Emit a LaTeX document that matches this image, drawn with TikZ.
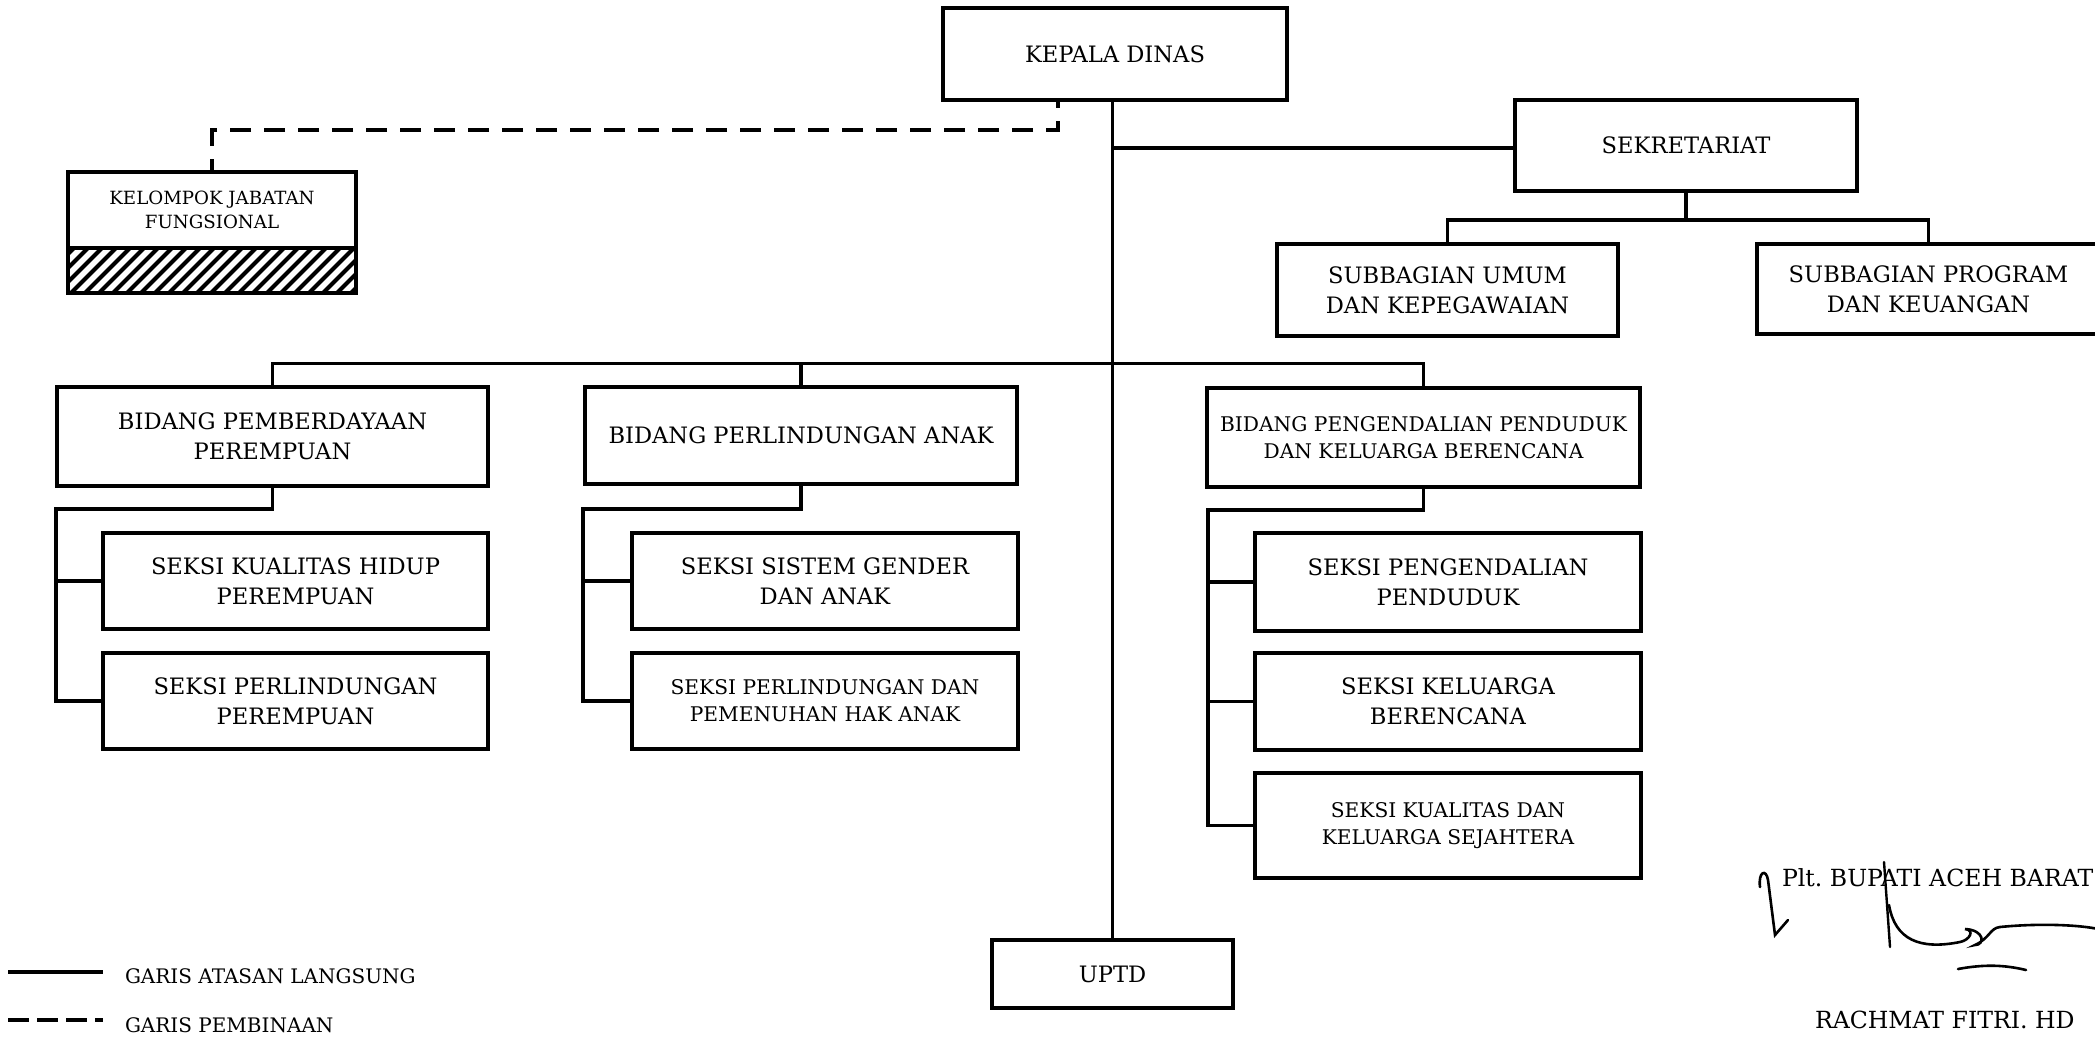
\documentclass[tikz,border=0pt]{standalone}
\usepackage{fontspec}
\setmainfont{DejaVu Serif}
\newcommand\fsMain{\fontsize{22.6}{30}\selectfont}
\newcommand\fsSmall{\fontsize{20.2}{27}\selectfont}
\newcommand\fsKjf{\fontsize{18.2}{24}\selectfont}
\newcommand\fsLeg{\fontsize{20}{24}\selectfont}
\newcommand\fsSig{\fontsize{23.6}{30}\selectfont}
\tikzset{
  box/.style={draw, rectangle, line width=3.5pt, inner sep=0pt, outer sep=0pt, align=center, font=\fsMain},
  conn/.style={line width=3.4pt, line join=miter},
  dashline/.style={line width=3.8pt, dash pattern=on 21pt off 13pt},
  plain/.style={inner sep=0pt, outer sep=0pt}
}
\begin{document}
\begin{tikzpicture}[x=1pt,y=-1pt]
\useasboundingbox (0,0) rectangle (2095,1037);
% top
\node[box, minimum width=344pt, minimum height=92pt] (kd) at (1115,54) {KEPALA DINAS};
\node[box, minimum width=342pt, minimum height=91pt] (sek) at (1686,145.5) {SEKRETARIAT};
\node[box, minimum width=341pt, minimum height=92pt] (suu) at (1447.5,290) {SUBBAGIAN UMUM\\DAN KEPEGAWAIAN};
\node[box, minimum width=343pt, minimum height=90pt] (sup) at (1928.5,289) {SUBBAGIAN PROGRAM\\DAN KEUANGAN};
% fungsional
\node[box, minimum width=288pt, minimum height=76pt, font=\fsKjf] (kjf) at (212,210) {KELOMPOK JABATAN\\FUNGSIONAL};
\node[box, minimum width=288pt, minimum height=45pt] (kjfh) at (212,270.5) {};
\begin{scope}
  \clip (kjfh.south west) rectangle (kjfh.north east);
  \foreach \i in {-5,...,24} \draw[line width=4pt] (68+14*\i,296) -- ++(52,-52);
\end{scope}
\draw[line width=3.5pt] (kjfh.south west) rectangle (kjfh.north east);
% bidang
\node[box, minimum width=431pt, minimum height=99pt] (bpp) at (272.5,436.5) {BIDANG PEMBERDAYAAN\\PEREMPUAN};
\node[box, minimum width=432pt, minimum height=97pt] (bpa) at (801,435.5) {BIDANG PERLINDUNGAN ANAK};
\node[box, minimum width=433pt, minimum height=99pt, font=\fsSmall] (bpd) at (1423.5,437.5) {BIDANG PENGENDALIAN PENDUDUK\\DAN KELUARGA BERENCANA};
% seksi left
\node[box, minimum width=385pt, minimum height=96pt] (s11) at (295.5,581) {SEKSI KUALITAS HIDUP\\PEREMPUAN};
\node[box, minimum width=385pt, minimum height=96pt] (s12) at (295.5,701) {SEKSI PERLINDUNGAN\\PEREMPUAN};
% seksi middle
\node[box, minimum width=386pt, minimum height=96pt] (s21) at (825,581) {SEKSI SISTEM GENDER\\DAN ANAK};
\node[box, minimum width=386pt, minimum height=96pt, font=\fsSmall] (s22) at (825,701) {SEKSI PERLINDUNGAN DAN\\PEMENUHAN HAK ANAK};
% seksi right
\node[box, minimum width=386pt, minimum height=98pt] (s31) at (1448,582) {SEKSI PENGENDALIAN\\PENDUDUK};
\node[box, minimum width=386pt, minimum height=97pt] (s32) at (1448,701.5) {SEKSI KELUARGA\\BERENCANA};
\node[box, minimum width=386pt, minimum height=105pt, font=\fsSmall] (s33) at (1448,825.5) {SEKSI KUALITAS DAN\\KELUARGA SEJAHTERA};
% uptd
\node[box, minimum width=241pt, minimum height=68pt] (uptd) at (1112.5,974) {UPTD};
% coordinates
\coordinate (sekbar) at (0,220);
\coordinate (mainbar) at (0,363.5);
\coordinate (b1) at (56,509);
\coordinate (b2) at (583,509);
\coordinate (b3) at (1208,510);
\coordinate (dk) at (1058,130);
% connectors
\draw[conn] (uptd.north) -- (uptd.north |- kd.south);
\draw[conn] (uptd.north |- 0,148) -- (sek.west |- 0,148);
\draw[conn] (sek.south) -- (sek.south |- sekbar);
\draw[conn] (suu.north) -- (suu.north |- sekbar) -- (sup.north |- sekbar) -- (sup.north);
\draw[conn] (bpp.north) -- (bpp.north |- mainbar) -- (bpd.north |- mainbar) -- (bpd.north);
\draw[conn] (bpa.north) -- (bpa.north |- mainbar);
\draw[conn] (bpp.south) |- (b1) -- (b1 |- s12.west) -- (s12.west);
\draw[conn] (b1 |- s11.west) -- (s11.west);
\draw[conn] (bpa.south) |- (b2) -- (b2 |- s22.west) -- (s22.west);
\draw[conn] (b2 |- s21.west) -- (s21.west);
\draw[conn] (bpd.south) |- (b3) -- (b3 |- s33.west) -- (s33.west);
\draw[conn] (b3 |- s31.west) -- (s31.west);
\draw[conn] (b3 |- s32.west) -- (s32.west);
\draw[dashline, dash phase=13pt] (dk |- kd.south) -- (dk) -| (kjf.north);
% legend
\coordinate (l1a) at (8,972);
\coordinate (l1b) at (103,972);
\coordinate (l2a) at (8,1020);
\coordinate (l2b) at (103,1020);
\draw[conn] (l1a) -- (l1b);
\draw[dashline, dash pattern=on 21pt off 8pt] (l2a) -- (l2b);
\node[plain, anchor=west, font=\fsLeg] (leg1) at (125,976) {GARIS ATASAN LANGSUNG};
\node[plain, anchor=west, font=\fsLeg] (leg2) at (125,1025) {GARIS PEMBINAAN};
% signature
\node[plain, anchor=west, font=\fsSig] (bup) at (1782,878) {Plt.\ BUPATI ACEH BARAT};
\node[plain, anchor=west, font=\fsSig] (nm) at (1815,1020) {RACHMAT FITRI.\ HD};
\draw[line width=2.6pt, line cap=round] (1760,887) .. controls (1758,872) and (1766,868) .. (1768,880) -- (1775,935) -- (1788,920);
\draw[line width=2.4pt, line cap=round] (1884,862) -- (1890,947);
\draw[line width=2.6pt, line cap=round] (1889,905) .. controls (1895,940) and (1920,950) .. (1960,942) .. controls (1970,940) and (1975,930) .. (1965,929) .. controls (1985,930) and (1985,945) .. (1975,945) .. controls (1990,938) and (1990,928) .. (2000,927) .. controls (2040,923) and (2080,925) .. (2098,929);
\draw[line width=2.6pt, line cap=round] (1958,969) .. controls (1985,964) and (2005,965) .. (2026,970);
\end{tikzpicture}
\end{document}
